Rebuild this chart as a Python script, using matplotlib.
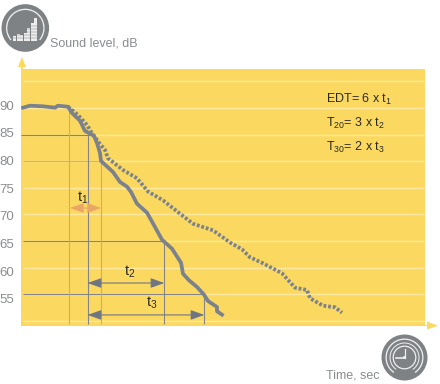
import matplotlib
matplotlib.use('Agg')
import matplotlib.pyplot as plt
from matplotlib.patches import Circle, Rectangle, Polygon, Wedge

plt.rcParams['font.family'] = ['Liberation Sans', 'DejaVu Sans']
plt.rcParams['mathtext.fontset'] = 'custom'
plt.rcParams['mathtext.rm'] = 'Liberation Sans'
plt.rcParams['mathtext.default'] = 'regular'

# data
solid_t = [.02, .09, .22, .34, .37, .47, .51, .59, .64, .73, .76, .79, .80, .92, .99, 1.06, 1.10, 1.16,
           1.26, 1.34, 1.41, 1.51, 1.60, 1.62, 1.68, 1.76, 1.83, 1.87, 1.96, 1.96, 2.01]
solid_db = [90.06, 90.43, 90.32, 90.06, 90.43, 90.24, 89.06, 87.61, 85.68, 84.79, 83.42, 81.54, 80.04,
            77.97, 76.09, 75.21, 74.21, 72.01, 70.32, 67.63, 65.24, 63.55, 60.92, 58.85, 57.61, 56.35,
            54.91, 53.72, 52.59, 51.79, 51.15]
dashed_t = [.47, .57, .66, .71, .79, .84, .87, 1.02, 1.16, 1.27, 1.42, 1.59, 1.72, 1.92, 2.09, 2.21,
            2.29, 2.42, 2.61, 2.74, 2.86, 2.89, 3.02, 3.14, 3.21]
dashed_db = [90.24, 88.68, 86.80, 85.24, 83.23, 82.11, 80.55, 78.35, 76.79, 74.30, 72.65, 70.13, 68.25,
             67.01, 64.72, 63.44, 61.94, 60.81, 58.93, 56.22, 55.79, 54.23, 52.84, 52.54, 51.52]
grid_levels = [50, 55, 60, 65, 70, 75, 80, 85, 90, 95]
tick_levels = [55, 60, 65, 70, 75, 80, 85, 90]
ref_levels = [85, 80, 65, 55]
ref_starts = [0, .02, .02, .02]
ref_ends = [.73, .803, 1.42, 1.833]
ref_colors = ['#828488', '#eda75f', '#828488', '#828488']
vert_t = [.483, .667, .803, 1.433, 1.833]
vert_top = [90.2, 85, 80, 65, 55]
vert_colors = ['#eaa35c', '#828488', '#eaa35c', '#828488', '#828488']
spans = [(.49, .80, 71.2, '#eba566', 't$_1$', .62, 71.6),
         (.667, 1.433, 57.1, '#6f7683', 't$_2$', 1.09, 57.7),
         (.667, 1.833, 51.1, '#6f7683', 't$_3$', 1.31, 51.8)]
formulas = [('EDT= 6 x t$_1$', 99.5), ('T$_{20}$= 3 x t$_2$', 123), ('T$_{30}$= 2 x t$_3$', 147)]
icon_bar_h = [5, 7, 6, 8, 13, 18, 23]

YEL = '#fbd961'
GRID = '#fde9a0'
GREY = '#7b818d'
TXT = '#8a8d90'
ICON = '#7f8284'
PALE = '#eeeeee'

W, H = 440, 384
fig = plt.figure(figsize=(4.4, 3.84), dpi=100, facecolor='white')
rect = [21 / W, 1 - 326 / H, 404 / W, 257 / H]
ax = fig.add_axes(rect, facecolor=YEL)
ax.set_xlim(0, 4.04)
ax.set_ylim(49.02, 97.33)
for s in ax.spines.values():
    s.set_visible(False)
ax.set_xticks([])
ax.set_yticks([])

# the printed scale numbers are spaced a little wider than the grid in the reference
lab = fig.add_axes(rect, facecolor='none', zorder=-1)
lab.set_xticks([])
lab.set_ylim(50.1, 96.5)
lab.set_yticks(tick_levels)
lab.set_yticklabels([str(v) for v in tick_levels], fontsize=9.5, color=TXT)
lab.tick_params(axis='y', length=0, pad=5)
for s in lab.spines.values():
    s.set_visible(False)

ax.hlines(grid_levels, .02, 4.03, color=GRID, lw=1, zorder=1)
for lev, st, end, c in zip(ref_levels, ref_starts, ref_ends, ref_colors):
    ax.hlines(lev, st, end, color=c, lw=0.8, zorder=2)
for t, top, c in zip(vert_t, vert_top, vert_colors):
    ax.vlines(t, 49.35, top, color=c, lw=0.8, zorder=2)

ax.plot(solid_t, solid_db, color=GREY, lw=2.7, zorder=4, solid_joinstyle='round')
ax.plot(dashed_t, dashed_db, color=GREY, lw=2.7, ls=(0, (0.75, 0.5)), zorder=3)

for a, b, y, c, txt, lx, ly in spans:
    ax.annotate('', xy=(a, y), xytext=(b, y), zorder=5,
                arrowprops=dict(arrowstyle='<|-|>,head_length=0.75,head_width=0.27', color=c, lw=0.8,
                                shrinkA=0, shrinkB=0, mutation_scale=11))
    ax.text(lx, ly, txt, fontsize=10.5, color='#2a2a28', ha='center', va='bottom', zorder=6)

# overlay in pixel space: formulas, axis arrows, icons, captions
ov = fig.add_axes([0, 0, 1, 1], facecolor='none')
ov.set_xlim(0, W)
ov.set_ylim(H, 0)
ov.axis('off')
for s, y in formulas:
    ov.text(326, y, s, fontsize=9, color='#2a2a28', va='center', ha='left')
ov.text(50, 43, 'Sound level, dB', fontsize=9, color=TXT, va='center', ha='left')
ov.text(379, 375.5, 'Time, sec', fontsize=9, color=TXT, va='center', ha='right')

ov.add_patch(Polygon([[22, 57], [18, 67], [26, 67]], color=YEL, lw=0))
ov.add_patch(Rectangle((21, 66), 1.5, 4, color=YEL, lw=0))
ov.add_patch(Polygon([[438, 325.7], [427, 321.5], [427, 329.5]], color=YEL, lw=0))
ov.add_patch(Rectangle((424, 325), 4, 1.3, color=YEL, lw=0))

# sound level icon
ov.add_patch(Circle((25.3, 28), 23.8, color=ICON, lw=0))
ov.add_patch(Wedge((25.3, 28), 19.3, 40 + 100, 40, width=1.3, color=PALE, lw=0))
for i, h in enumerate(icon_bar_h):
    ov.add_patch(Rectangle((13 + i * 3.5, 41 - h), 3, h, color=PALE, lw=0))
for y in range(26, 41, 3):
    ov.plot([12.5, 38], [y, y], color=ICON, lw=0.35)

# clock icon
ov.add_patch(Circle((404.5, 357.5), 23, color=ICON, lw=0))
ov.add_patch(Wedge((404.5, 357.5), 19, 125, 55, width=1.3, color=PALE, lw=0))
ov.add_patch(Wedge((404.5, 357.5), 15, 125, 55, width=1.0, color=PALE, lw=0))
ov.add_patch(Circle((404.5, 357.5), 11.3, fill=False, ec=PALE, lw=0.9))
ov.plot([404.5, 404.5], [357.5, 348.5], color=PALE, lw=0.9)
ov.plot([396, 404.5], [357.5, 357.5], color=PALE, lw=1.2)
ov.add_patch(Circle((404.5, 357.5), 1.5, color=PALE, lw=0))

fig.savefig('out.png', dpi=100, facecolor='white')
